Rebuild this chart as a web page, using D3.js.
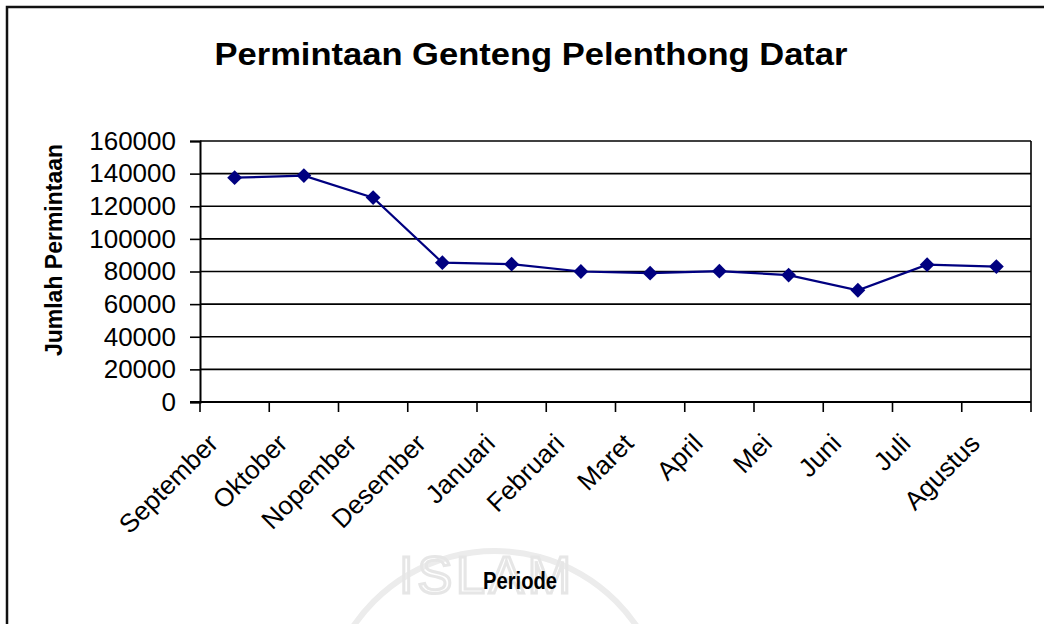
<!DOCTYPE html>
<html lang="id">
<head>
<meta charset="UTF-8">
<title>Permintaan Genteng Pelenthong Datar</title>
<script src="https://cdn.jsdelivr.net/npm/d3@7"></script>
<style>
  body { margin: 0; background: #fff; }
  text { font-family: Arial, "Liberation Sans", sans-serif; fill: #000; }
</style>
</head>
<body>
<script>
// data
var periode = ["September", "Oktober", "Nopember", "Desember", "Januari", "Februari",
               "Maret", "April", "Mei", "Juni", "Juli", "Agustus"];
var permintaan = [137500, 138800, 125300, 85400, 84500, 80000,
                  79000, 80200, 77800, 68500, 84200, 83000];
var yTicks = [0, 20000, 40000, 60000, 80000, 100000, 120000, 140000, 160000];

var W = 1044, H = 624;
var plotL = 200, plotR = 1031, plotT = 141, plotB = 402;

var svg = d3.select("body").append("svg")
    .attr("width", W).attr("height", H);

// outer chart frame (runs off the picture on the right and bottom)
svg.append("rect")
    .attr("x", 7).attr("y", 7)
    .attr("width", 1100).attr("height", 700)
    .attr("fill", "none").attr("stroke", "#111").attr("stroke-width", 2.5);

// faint watermark behind the axis title
svg.append("path")
    .attr("d", d3.arc()({ innerRadius: 168, outerRadius: 174, startAngle: -1.05, endAngle: 1.05 }))
    .attr("transform", "translate(495,722)")
    .attr("fill", "#ececec");
svg.append("text")
    .attr("x", 487).attr("y", 593)
    .attr("text-anchor", "middle")
    .style("font-size", "52px").style("letter-spacing", "4px")
    .style("fill", "none").style("stroke", "#e6e6e6").style("stroke-width", 3)
    .text("ISLAM");

var x = d3.scaleBand().domain(periode).range([plotL, plotR]);
var y = d3.scaleLinear().domain([0, 160000]).range([plotB, plotT]);

// gridlines
svg.append("g").selectAll("line").data(yTicks.slice(1)).enter()
    .append("line")
    .attr("x1", plotL).attr("x2", plotR)
    .attr("y1", function(d) { return y(d); })
    .attr("y2", function(d) { return y(d); })
    .attr("stroke", "#000").attr("stroke-width", 1.6);

// right edge of plot area
svg.append("line")
    .attr("x1", plotR).attr("x2", plotR)
    .attr("y1", plotT).attr("y2", plotB)
    .attr("stroke", "#000").attr("stroke-width", 1.6);

// y axis
var yAxis = d3.axisLeft(y).tickValues(yTicks).tickSize(10).tickPadding(14)
    .tickFormat(function(d) { return String(d); });
var gy = svg.append("g").attr("transform", "translate(" + plotL + ",0)").call(yAxis);
gy.select(".domain").attr("stroke", "#000").attr("stroke-width", 2);
gy.selectAll(".tick line").attr("stroke", "#000").attr("stroke-width", 1.6);
gy.selectAll(".tick text").style("font-size", "26px").attr("font-family", null);

// x axis: baseline, ticks on category boundaries, rotated labels
svg.append("line")
    .attr("x1", plotL - 10).attr("x2", plotR)
    .attr("y1", plotB).attr("y2", plotB)
    .attr("stroke", "#000").attr("stroke-width", 2);
var bounds = periode.map(function(p) { return x(p); }).concat([x.range()[1]]);
svg.append("g").selectAll("line").data(bounds).enter()
    .append("line")
    .attr("x1", function(d) { return d; }).attr("x2", function(d) { return d; })
    .attr("y1", plotB).attr("y2", plotB + 10)
    .attr("stroke", "#000").attr("stroke-width", 1.6);
svg.append("g").selectAll("text").data(periode).enter()
    .append("text")
    .attr("text-anchor", "end")
    .attr("transform", function(d) {
        return "translate(" + (x(d) + x.bandwidth() / 2 - 15) + "," + (plotB + 43) + ") rotate(-45)";
    })
    .style("font-size", "26px")
    .text(function(d) { return d; });

// series line + diamond markers
var line = d3.line()
    .x(function(d, i) { return x(periode[i]) + x.bandwidth() / 2; })
    .y(function(d) { return y(d); });
svg.append("path").datum(permintaan)
    .attr("d", line)
    .attr("fill", "none").attr("stroke", "#000080").attr("stroke-width", 2.2);
svg.append("g").selectAll("path").data(permintaan).enter()
    .append("path")
    .attr("d", d3.symbol().type(d3.symbolSquare).size(110))
    .attr("transform", function(d, i) {
        return "translate(" + (x(periode[i]) + x.bandwidth() / 2) + "," + y(d) + ") rotate(45)";
    })
    .attr("fill", "#000080");

// titles
svg.append("text")
    .attr("x", 531).attr("y", 65)
    .attr("text-anchor", "middle")
    .attr("textLength", 633).attr("lengthAdjust", "spacingAndGlyphs")
    .style("font-size", "32px").style("font-weight", "bold")
    .text("Permintaan Genteng Pelenthong Datar");
svg.append("text")
    .attr("transform", "translate(62,250) rotate(-90)")
    .attr("text-anchor", "middle")
    .style("font-size", "23px").style("font-weight", "bold")
    .text("Jumlah Permintaan");
svg.append("text")
    .attr("x", 520).attr("y", 589)
    .attr("text-anchor", "middle")
    .attr("textLength", 74).attr("lengthAdjust", "spacingAndGlyphs")
    .style("font-size", "24px").style("font-weight", "bold")
    .text("Periode");
</script>
</body>
</html>
